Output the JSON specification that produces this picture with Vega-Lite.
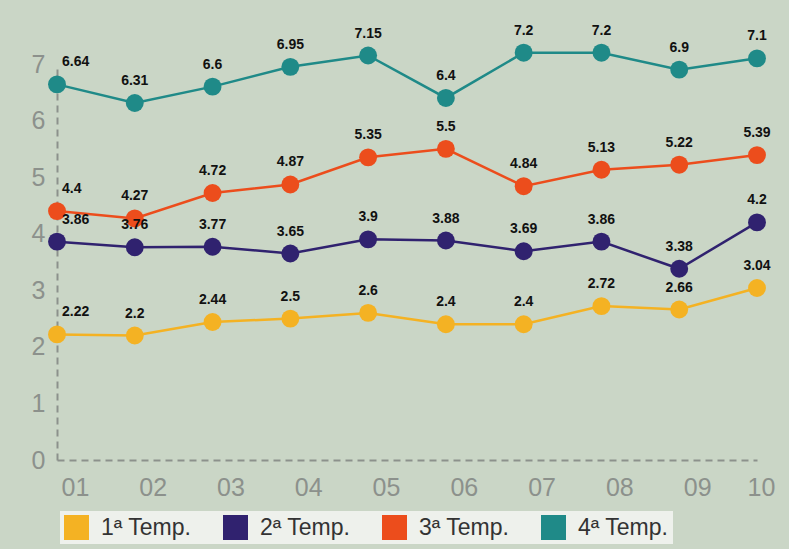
{
  "$schema": "https://vega.github.io/schema/vega-lite/v6.json",
  "width": 700,
  "height": 396,
  "autosize": {"type": "none"},
  "padding": {"left": 57, "top": 64, "right": 32, "bottom": 89},
  "background": "#cad6c6",
  "config": {"view": {"stroke": null}, "font": "Liberation Sans"},
  "data": {
    "values": [
      {"ep": "01", "s": "1ª Temp.", "v": 2.22}, {"ep": "02", "s": "1ª Temp.", "v": 2.2}, {"ep": "03", "s": "1ª Temp.", "v": 2.44}, {"ep": "04", "s": "1ª Temp.", "v": 2.5}, {"ep": "05", "s": "1ª Temp.", "v": 2.6}, {"ep": "06", "s": "1ª Temp.", "v": 2.4}, {"ep": "07", "s": "1ª Temp.", "v": 2.4}, {"ep": "08", "s": "1ª Temp.", "v": 2.72}, {"ep": "09", "s": "1ª Temp.", "v": 2.66}, {"ep": "10", "s": "1ª Temp.", "v": 3.04},
      {"ep": "01", "s": "2ª Temp.", "v": 3.86}, {"ep": "02", "s": "2ª Temp.", "v": 3.76}, {"ep": "03", "s": "2ª Temp.", "v": 3.77}, {"ep": "04", "s": "2ª Temp.", "v": 3.65}, {"ep": "05", "s": "2ª Temp.", "v": 3.9}, {"ep": "06", "s": "2ª Temp.", "v": 3.88}, {"ep": "07", "s": "2ª Temp.", "v": 3.69}, {"ep": "08", "s": "2ª Temp.", "v": 3.86}, {"ep": "09", "s": "2ª Temp.", "v": 3.38}, {"ep": "10", "s": "2ª Temp.", "v": 4.2},
      {"ep": "01", "s": "3ª Temp.", "v": 4.4}, {"ep": "02", "s": "3ª Temp.", "v": 4.27}, {"ep": "03", "s": "3ª Temp.", "v": 4.72}, {"ep": "04", "s": "3ª Temp.", "v": 4.87}, {"ep": "05", "s": "3ª Temp.", "v": 5.35}, {"ep": "06", "s": "3ª Temp.", "v": 5.5}, {"ep": "07", "s": "3ª Temp.", "v": 4.84}, {"ep": "08", "s": "3ª Temp.", "v": 5.13}, {"ep": "09", "s": "3ª Temp.", "v": 5.22}, {"ep": "10", "s": "3ª Temp.", "v": 5.39},
      {"ep": "01", "s": "4ª Temp.", "v": 6.64}, {"ep": "02", "s": "4ª Temp.", "v": 6.31}, {"ep": "03", "s": "4ª Temp.", "v": 6.6}, {"ep": "04", "s": "4ª Temp.", "v": 6.95}, {"ep": "05", "s": "4ª Temp.", "v": 7.15}, {"ep": "06", "s": "4ª Temp.", "v": 6.4}, {"ep": "07", "s": "4ª Temp.", "v": 7.2}, {"ep": "08", "s": "4ª Temp.", "v": 7.2}, {"ep": "09", "s": "4ª Temp.", "v": 6.9}, {"ep": "10", "s": "4ª Temp.", "v": 7.1}
    ]
  },
  "encoding": {
    "x": {
      "field": "ep", "type": "ordinal", "sort": null,
      "scale": {"type": "point", "padding": 0},
      "axis": {
        "title": null, "labelAngle": 0, "ticks": false, "grid": false,
        "domainColor": "#8c918c", "domainWidth": 2, "domainDash": [7, 5],
        "labelFontSize": 25, "labelColor": "#8c918c", "labelPadding": 15,
        "labelAlign": {"condition": {"test": "datum.value == '10'", "value": "center"}, "value": "left"},
        "labelOffset": 4
      }
    },
    "y": {
      "field": "v", "type": "quantitative",
      "scale": {"domain": [0, 7], "nice": false},
      "axis": {
        "title": null, "values": [0, 1, 2, 3, 4, 5, 6, 7], "ticks": false, "grid": false,
        "domainColor": "#8c918c", "domainWidth": 2, "domainDash": [7, 5],
        "labelFontSize": 25, "labelColor": "#8c918c", "labelPadding": 12
      }
    },
    "color": {
      "field": "s", "type": "nominal",
      "scale": {"domain": ["1ª Temp.", "2ª Temp.", "3ª Temp.", "4ª Temp."], "range": ["#f4b223", "#30226f", "#ec4d1c", "#1f8a88"]},
      "legend": {
        "orient": "none", "legendX": 3, "legendY": 447, "direction": "horizontal", "columns": 4,
        "title": null, "symbolType": "square", "symbolSize": 625, "symbolStrokeWidth": 0,
        "labelFontSize": 23, "labelColor": "#333333", "labelOffset": 12, "columnPadding": 31,
        "gridAlign": "all", "fillColor": "#eef1ec", "padding": 4,
        "encode": {"symbols": {"update": {"fill": {"scale": "color", "field": "value"}, "stroke": {"value": "transparent"}, "shape": {"value": "square"}, "opacity": {"value": 1}}}}
      }
    }
  },
  "layer": [
    {"mark": {"type": "line", "strokeWidth": 2.5}},
    {"mark": {"type": "point", "filled": true, "size": 320, "opacity": 1}},
    {
      "transform": [{"filter": "datum.ep != '01'"}],
      "mark": {"type": "text", "fontSize": 14, "fontWeight": "bold", "dy": -22, "color": "#111111"},
      "encoding": {"text": {"field": "v", "type": "nominal"}, "color": {"value": "#111111"}}
    },
    {
      "transform": [{"filter": "datum.ep == '01'"}],
      "mark": {"type": "text", "fontSize": 14, "fontWeight": "bold", "dy": -22, "dx": 5, "align": "left", "color": "#111111"},
      "encoding": {"text": {"field": "v", "type": "nominal"}, "color": {"value": "#111111"}}
    }
  ]
}
